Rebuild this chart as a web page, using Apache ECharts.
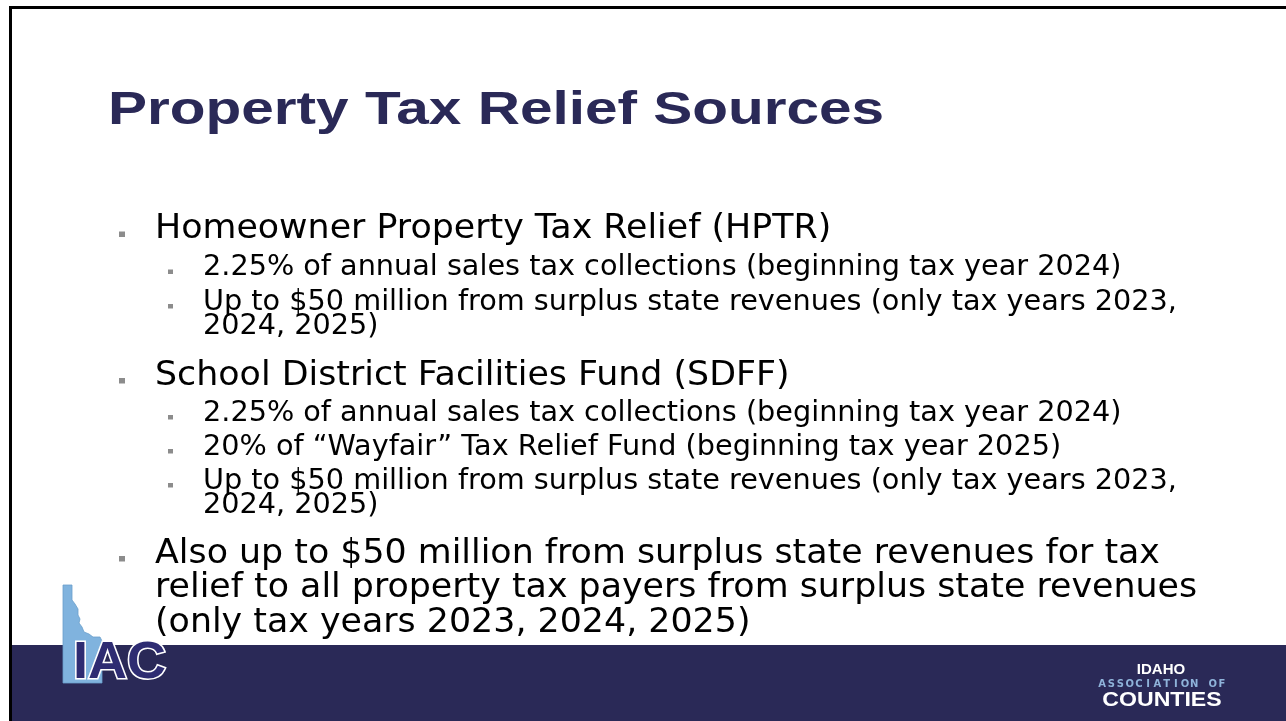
<!DOCTYPE html>
<html>
<head>
<meta charset="utf-8">
<script src="https://cdn.jsdelivr.net/npm/echarts@6/dist/echarts.min.js"></script>
<style>
  html, body { margin: 0; padding: 0; background: #fff; }
  #main { width: 1286px; height: 721px; }
</style>
</head>
<body>
<div id="main"></div>
<script>
// slide text
const titleText = 'Property Tax Relief Sources';
const hptrHead = ['Homeowner Property Tax Relief (HPTR)'];
const hptrItems = [
  ['2.25% of annual sales tax collections (beginning tax year 2024)'],
  ['Up to $50 million from surplus state revenues (only tax years 2023,', '2024, 2025)']
];
const sdffHead = ['School District Facilities Fund (SDFF)'];
const sdffItems = [
  ['2.25% of annual sales tax collections (beginning tax year 2024)'],
  ['20% of \u201cWayfair\u201d Tax Relief Fund (beginning tax year 2025)'],
  ['Up to $50 million from surplus state revenues (only tax years 2023,', '2024, 2025)']
];
const allPayersHead = [
  'Also up to $50 million from surplus state revenues for tax',
  'relief to all property tax payers from surplus state revenues',
  '(only tax years 2023, 2024, 2025)'
];
const logoWords = ['IDAHO', 'ASSOCIATION OF', 'COUNTIES'];

const chartDom = document.getElementById('main');
const myChart = echarts.init(chartDom, null, { renderer: 'canvas' });

const navy = '#2a2957';
const bodyFont = '"DejaVu Sans", sans-serif';
const elements = [];

// frame + footer band
elements.push({
  type: 'rect', shape: { x: 10.5, y: 7.5, width: 1400, height: 800 },
  style: { fill: '#fff', stroke: '#000', lineWidth: 3 }
});
elements.push({
  type: 'rect', shape: { x: 12, y: 645, width: 1286, height: 80 },
  style: { fill: navy }
});

// title
elements.push({
  type: 'text', x: 108, y: 126 - 0.32 * 47, scaleX: 1.245,
  style: { text: titleText, font: 'bold 47px "Liberation Sans", Arial, sans-serif', fill: navy, verticalAlign: 'middle' }
});

// bullet list, laid out top to bottom
const levels = {
  1: { x: 155, size: 33, bx: 119, bs: 6, wrap: 34.5, sx: 1.055 },
  2: { x: 203, size: 28, bx: 168, bs: 5, wrap: 24, sx: 1.025 }
};
function addItem(lines, level, baseline) {
  const L = levels[level];
  elements.push({
    type: 'rect', shape: { x: L.bx, y: baseline - (level === 1 ? 8.5 : 7.5), width: L.bs, height: L.bs - 0.5 },
    style: { fill: '#8c8c8c' }
  });
  lines.forEach((t, i) => {
    const y = baseline + i * L.wrap;
    elements.push({
      type: 'text', x: L.x, y: y - 0.32 * L.size, scaleX: L.sx,
      style: { text: t, font: 'normal ' + L.size + 'px ' + bodyFont, fill: '#000', verticalAlign: 'middle' }
    });
  });
  return baseline + (lines.length - 1) * L.wrap;
}

let yb = 240;
yb = addItem(hptrHead, 1, yb);
yb += 37;
hptrItems.forEach((it) => { yb = addItem(it, 2, yb) + 34.5; });
yb += 51 - 34.5;
yb = addItem(sdffHead, 1, yb);
yb += 36;
sdffItems.forEach((it) => { yb = addItem(it, 2, yb) + 34; });
yb += 50 - 34;
addItem(allPayersHead, 1, yb);

// IAC logo: state outline behind the letters
elements.push({
  type: 'polygon',
  shape: { points: [[63, 585], [72, 585], [72, 600], [75, 604], [78, 609], [78, 615], [80, 619], [79, 623], [82, 627], [84, 632], [89, 634], [93, 637], [100, 637], [102, 641], [102, 683], [63, 683]] },
  style: { fill: '#80b3de', stroke: '#6a9fcc', lineWidth: 0.8 }
});
// white halo first, then the navy letters on top
elements.push({
  type: 'text', x: 73, y: 681 - 0.33 * 52, scaleX: 1.04, z: 10,
  style: {
    text: 'IAC', font: 'bold 52px "Liberation Sans", Arial, sans-serif',
    fill: '#fff', stroke: '#fff', lineWidth: 3, verticalAlign: 'middle'
  }
});
elements.push({
  type: 'text', x: 73, y: 681 - 0.33 * 52, scaleX: 1.04, z: 11,
  style: {
    text: 'IAC', font: 'bold 52px "Liberation Sans", Arial, sans-serif',
    fill: '#2e2c72', verticalAlign: 'middle'
  }
});

// Idaho Association of Counties wordmark
elements.push({
  type: 'text', x: 1161, y: 670, style: { text: logoWords[0], font: 'bold 15px "Liberation Sans", Arial, sans-serif', fill: '#fff', align: 'center', verticalAlign: 'middle' }
});
const assoc = logoWords[1];
const step = 120 / (assoc.length - 1);
for (let i = 0; i < assoc.length; i++) {
  elements.push({
    type: 'text', x: 1102 + i * step, y: 684,
    style: { text: assoc[i], font: 'bold 10px "DejaVu Sans", sans-serif', fill: '#8fb3da', align: 'center', verticalAlign: 'middle' }
  });
}
elements.push({
  type: 'text', x: 1162, y: 700, scaleX: 1.1,
  style: { text: logoWords[2], font: 'bold 21px "Liberation Sans", Arial, sans-serif', fill: '#fff', align: 'center', verticalAlign: 'middle' }
});

const option = {
  backgroundColor: '#fff',
  animation: false,
  graphic: { elements: elements }
};

myChart.setOption(option);
</script>
</body>
</html>
